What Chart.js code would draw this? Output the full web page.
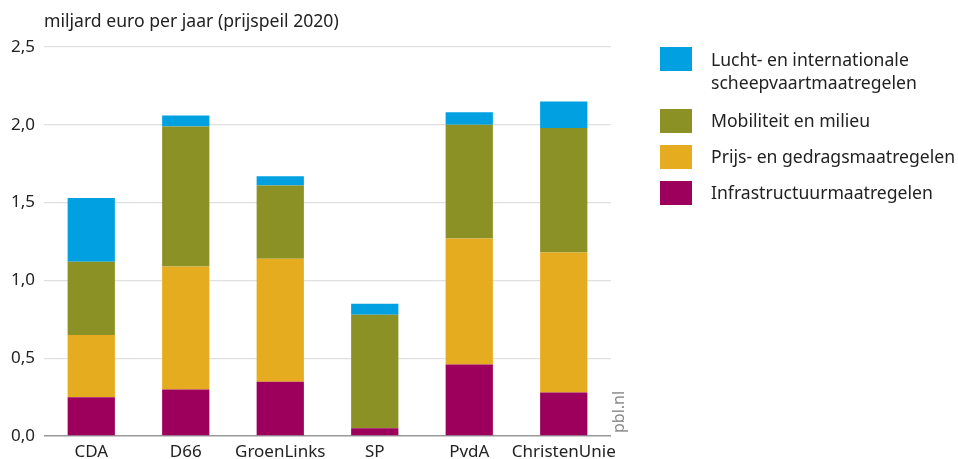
<!DOCTYPE html>
<html>
<head>
<meta charset="utf-8">
<script src="https://cdn.jsdelivr.net/npm/chart.js@4/dist/chart.umd.min.js"></script>
<style>
  html, body { margin: 0; padding: 0; background: #fff; }
  body { width: 958px; height: 459px; position: relative; overflow: hidden; font-family: "Noto Sans", sans-serif; color: #222; }
  #wrap { position: absolute; left: 0; top: 0; width: 958px; height: 470px; }
  #title { position: absolute; left: 44px; top: 8px; font-size: 17.6px; white-space: nowrap; }
  #legend { position: absolute; left: 660px; top: 47px; font-size: 17.6px; }
  .item { position: absolute; left: 0; white-space: nowrap; }
  .box { position: absolute; left: 0; width: 32px; height: 24px; }
  .lbl { position: absolute; left: 51px; line-height: 23px; }
  #src { position: absolute; left: 610px; top: 433px; font-size: 16px; line-height: 17px; color: #888; transform: rotate(-90deg); transform-origin: 0 0; white-space: nowrap; }
</style>
</head>
<body>
<div id="wrap"><canvas id="c" width="958" height="470"></canvas></div>
<div id="title">miljard euro per jaar (prijspeil 2020)</div>
<div id="legend"></div>
<div id="src">pbl.nl</div>
<script>
const categories = ["CDA", "D66", "GroenLinks", "SP", "PvdA", "ChristenUnie"];
const infrastructuur = [0.25, 0.30, 0.35, 0.05, 0.46, 0.28];
const prijsGedrag = [0.40, 0.79, 0.79, 0.00, 0.81, 0.90];
const mobiliteit = [0.47, 0.90, 0.47, 0.73, 0.73, 0.80];
const luchtScheep = [0.41, 0.07, 0.06, 0.07, 0.08, 0.17];
const yTicks = [0, 0.5, 1.0, 1.5, 2.0, 2.5];

const seriesNames = ["Infrastructuurmaatregelen", "Prijs- en gedragsmaatregelen", "Mobiliteit en milieu", "Lucht- en internationale\nscheepvaartmaatregelen"];
const seriesColors = ["#9c005c", "#e6ac1f", "#8c9125", "#00a0e1"];
const seriesData = [infrastructuur, prijsGedrag, mobiliteit, luchtScheep];

const datasets = seriesData.map((d, i) => ({
  label: seriesNames[i],
  data: d,
  backgroundColor: seriesColors[i],
  borderWidth: 0,
  barPercentage: 0.5,
  categoryPercentage: 1.0
}));

new Chart(document.getElementById('c'), {
  type: 'bar',
  data: { labels: categories, datasets },
  options: {
    responsive: false,
    animation: false,
    layout: { padding: { left: 2, right: 347, top: 47, bottom: 1.5 } },
    plugins: { legend: { display: false }, tooltip: { enabled: false } },
    scales: {
      x: {
        stacked: true,
        grid: { display: false, drawTicks: false },
        border: { display: false },
        ticks: { color: '#222', font: { family: 'Noto Sans', size: 17 }, padding: 6, maxRotation: 0, autoSkip: false }
      },
      y: {
        stacked: true,
        min: 0, max: 2.5,
        afterBuildTicks: (axis) => { axis.ticks = yTicks.map(v => ({ value: v })); },
        grid: {
          drawTicks: false,
          color: (ctx) => ctx.tick && ctx.tick.value === 0 ? '#9a9a9a' : '#e0e0e0',
          lineWidth: (ctx) => ctx.tick && ctx.tick.value === 0 ? 1.5 : 1.2
        },
        border: { display: false },
        ticks: {
          color: '#222', font: { family: 'Noto Sans', size: 17 }, padding: 9,
          callback: (v) => Number(v).toFixed(1).replace('.', ',')
        }
      }
    }
  }
});

// HTML legend built from the series arrays (top to bottom: reverse stacking order)
const legend = document.getElementById('legend');
const legendTops = [0, 62, 98, 134];
[3, 2, 1, 0].forEach((si, k) => {
  const it = document.createElement('div');
  it.className = 'item';
  it.style.top = legendTops[k] + 'px';
  const b = document.createElement('div');
  b.className = 'box';
  b.style.background = seriesColors[si];
  const l = document.createElement('div');
  l.className = 'lbl';
  l.style.top = k === 0 ? '1px' : '0px';
  l.innerHTML = seriesNames[si].replace('\n', '<br>');
  it.appendChild(b); it.appendChild(l);
  legend.appendChild(it);
});
</script>
</body>
</html>
